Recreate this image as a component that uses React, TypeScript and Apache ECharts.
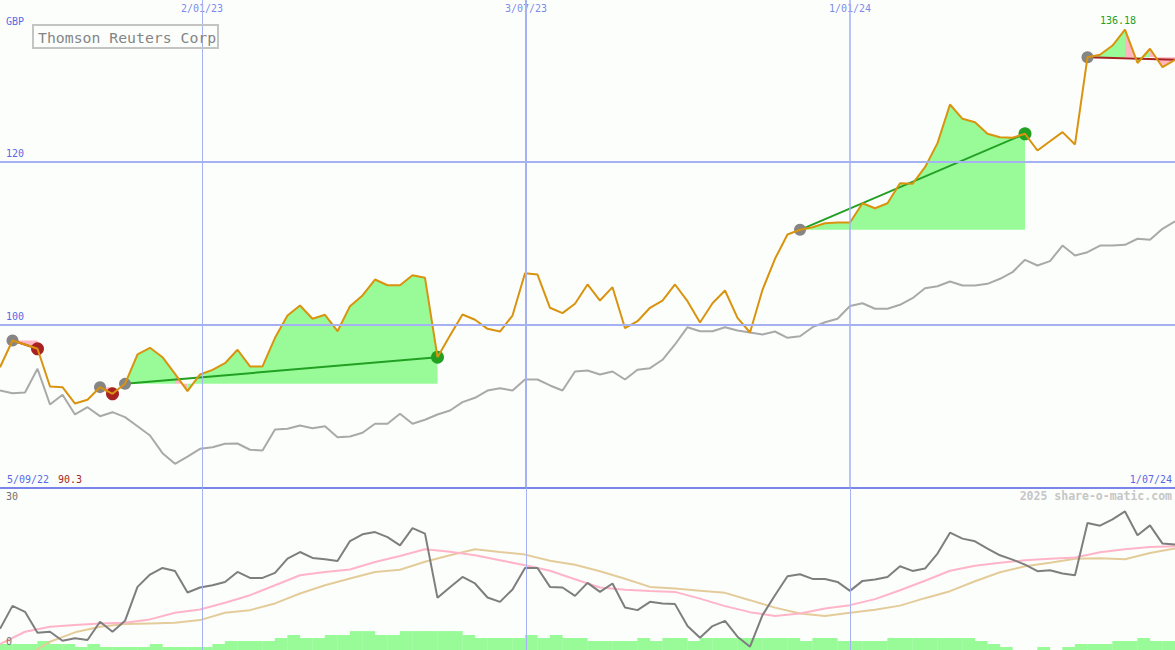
import React, { useEffect, useRef } from "react";
import * as echarts from "echarts";

const FONT = "'DejaVu Sans Mono', monospace";

// ---------- labels ----------
const currency = "GBP";
const company = "Thomson Reuters Corp";
const credit = "2025 share-o-matic.com";
const startDate = "5/09/22";
const endDate = "1/07/24";
const gridDates = ["2/01/23", "3/07/23", "1/01/24"];
const gridDateWeeks = [17.16, 43.08, 69];
const priceGridValues = [100, 120];
const lowerTicks = ["30", "0"];

// ---------- weekly data, weeks 1..95 ----------
const price = [
  94.76, 98.04, 97.55, 97.02, 92.39, 92.31, 90.3, 90.76, 92.31, 91.5,
  92.72, 96.32, 97.14, 95.99, 93.95, 91.82, 93.87, 94.44, 95.25, 96.9,
  94.85, 94.85, 98.37, 101.1, 102.33, 100.7, 101.19, 99.18, 102.25, 103.56,
  105.52, 104.82, 104.82, 106.05, 105.73, 95.99, 98.65, 101.23, 100.58, 99.47,
  99.14, 101.1, 106.29, 106.13, 102.05, 101.39, 102.54, 104.91, 102.94, 104.58,
  99.55, 100.4, 102.05, 102.94, 104.91, 102.86, 100.25, 102.61, 104.17, 100.82,
  99.02, 104.26, 108.06, 111.04, 111.62, 111.94, 112.43, 112.52, 112.52, 114.88,
  114.27, 114.88, 117.34, 117.26, 119.3, 122.25, 126.99, 125.24, 124.82, 123.4,
  122.98, 122.91, 123.4, 121.35, 122.49, 123.6, 122.09, 132.8, 133.09, 134.23,
  136.18, 132.09, 133.83, 131.57, 132.48,
];

const market = [
  91.9, 91.57, 91.66, 94.56, 90.18, 91.37, 88.96, 89.85, 88.75, 89.24,
  88.63, 87.52, 86.38, 84.21, 82.91, 83.8, 84.75, 84.94, 85.36, 85.4,
  84.63, 84.54, 87.12, 87.2, 87.61, 87.28, 87.52, 86.17, 86.26, 86.71,
  87.82, 87.82, 89.04, 87.82, 88.31, 88.96, 89.45, 90.47, 91.01, 91.9,
  92.18, 91.9, 93.25, 93.25, 92.52, 91.9, 94.23, 94.36, 93.87, 94.23,
  93.25, 94.44, 94.64, 95.67, 97.55, 99.67, 99.18, 99.18, 99.67, 99.26,
  99.02, 98.77, 99.14, 98.37, 98.56, 99.67, 100.28, 100.7, 102.27, 102.61,
  101.93, 101.93, 102.42, 103.23, 104.45, 104.7, 105.28, 104.79, 104.79, 104.99,
  105.61, 106.42, 107.94, 107.24, 107.77, 109.69, 108.47, 108.87, 109.69, 109.69,
  109.78, 110.52, 110.39, 111.74, 112.67,
];

const indicator = [
  3.92, 8.15, 7.05, 3.18, 3.37, 1.71, 2.15, 1.84, 5.21, 3.37,
  5.39, 11.65, 13.93, 15.15, 14.6, 10.62, 11.54, 11.96, 12.57, 14.41,
  13.31, 13.31, 14.23, 16.88, 18.09, 16.99, 16.75, 16.44, 20.12, 21.35,
  21.77, 20.85, 19.33, 22.51, 21.48, 9.63, 11.6, 13.49, 12.28, 9.7,
  8.89, 11.17, 15.15, 15.15, 11.65, 11.54, 9.99, 12.39, 10.73, 12.28,
  7.86, 7.36, 8.89, 8.6, 8.47, 4.42, 2.26, 4.42, 5.39, 2.45,
  0.61, 6.44, 10.12, 13.62, 13.99, 13.12, 13.12, 12.57, 10.91, 12.76,
  13.01, 13.49, 15.46, 14.6, 15.04, 17.8, 21.66, 20.56, 20.06, 18.72,
  17.49, 16.69, 15.77, 14.54, 14.72, 14.12, 13.8, 23.43, 22.95, 24.11,
  25.58, 21.17, 23.01, 19.64, 19.46,
];

// moving averages read at odd weeks 1,3,...,95
const maFast = [
  1.1, 3.37, 4.29, 4.6, 4.91, 5.02, 5.65, 6.87, 7.49, 8.71,
  10.12, 11.96, 13.8, 14.41, 14.85, 16.25, 17.36, 18.59, 18.13, 17.49,
  16.57, 15.64, 14.63, 13.07, 11.54, 11.14, 10.91, 10.73, 9.48, 8.1,
  6.99, 6.26, 6.72, 7.68, 8.28, 9.39, 11.04, 12.79, 14.63, 15.55,
  16.1, 16.57, 16.84, 17.06, 18.04, 18.59, 19.01, 19.14,
];
const maSlow = [
  null, -1.3, 1.53, 3.26, 4.29, 4.79, 4.91, 5.02, 5.52, 6.87,
  7.36, 8.6, 10.44, 11.96, 13.2, 14.41, 14.82, 16.29, 17.49, 18.59,
  18.09, 17.61, 16.47, 15.74, 14.54, 13.16, 11.65, 11.36, 10.95, 10.55,
  9.2, 7.82, 6.75, 6.26, 6.87, 7.45, 8.19, 9.57, 10.86, 12.7,
  14.36, 15.46, 16.1, 16.84, 16.93, 16.75, 17.91, 18.72,
];

// volume steps between consecutive weeks (segment k spans week k+1 .. k+2)
const volume = [
  2, 2, 2, 3, 2, 2, 1, 2, 1, 1,
  1, 1, 2, 1, 1, 1, 1, 2, 3, 3,
  3, 3, 4, 5, 4, 4, 5, 5, 6.3, 6.3,
  5, 5, 6.3, 6.3, 6.3, 6.3, 6.3, 5, 4, 4,
  4, 4, 5, 4, 5, 4, 4, 3, 3, 3,
  3, 4, 3, 4, 4, 3, 4, 4, 4, 4,
  4, 4, 4, 4, 3, 4, 4, 3, 3, 3,
  3, 4, 4, 4, 4, 4, 4, 4, 3, 2,
  1, 0, 0, 1, 0, 1, 2, 2, 2, 3,
  3, 4, 3, 3,
];

// trades (week numbers)
const tradeStart = [2, 9, 11, 65, 88];
const tradeEnd = [4, 10, 36, 83, 95];
const tradeClosed = [true, true, true, true, false];

// ---------- colours ----------
const BLUE = "#5a68e6";
const GRIDLINE = "#a6b1f4";
const GREEN_FILL = "#98fb98";
const PINK_FILL = "#ffb6c1";
const WIN = "#22a022";
const LOSS = "#a82222";

const mainMin = 80;
const mainMax = 80 + 487.5 / 8.15;

function buildOption() {
  const weeks = price.map((_, k) => k + 1);
  const priceData = weeks.map((w, k) => [w, price[k]]);
  const marketData = weeks.map((w, k) => [w, market[k]]);
  const indData = weeks.map((w, k) => [w, indicator[k]]);
  const maWeeks = maFast.map((_, k) => 1 + 2 * k);
  const fastData = maWeeks.map((w, k) => [w, maFast[k]]);
  const slowData = maWeeks.map((w, k) => [w, maSlow[k]]);
  const volData = volume.map((v, k) => [k + 1.5, v]);
  const minPrice = Math.min(...price);

  const P = (api: any, w: number) => api.coord([w, price[w - 1]]);

  // each weekly segment is filled between the price line and the entry level,
  // coloured by where that week closed relative to the entry level
  const fillRender = (params: any, api: any) => {
    const t = api.value(0) as number;
    const s = tradeStart[t];
    const e = tradeEnd[t];
    const level = price[s - 1];
    const ly = api.coord([s, level])[1];
    const colorOf = (w: number) => (price[w - 1] >= level ? GREEN_FILL : PINK_FILL);
    const children: any[] = [];
    const poly = (a: number, b: number, fill: string) => {
      const pts: number[][] = [];
      pts.push([P(api, a)[0], ly]);
      for (let w = a; w <= b; w++) pts.push(P(api, w));
      pts.push([P(api, b)[0], ly]);
      children.push({
        type: "polygon",
        shape: { points: pts },
        style: { fill },
        silent: true,
      });
    };
    let runStart = s;
    let runColor = colorOf(s + 1);
    for (let w = s + 1; w <= e; w++) {
      const c = colorOf(w);
      if (c !== runColor) {
        poly(runStart, w - 1, runColor);
        runStart = w - 1;
        runColor = c;
      }
    }
    poly(runStart, e, runColor);
    return { type: "group", children };
  };

  const tradeRender = (params: any, api: any) => {
    const t = api.value(0) as number;
    const s = tradeStart[t];
    const e = tradeEnd[t];
    const win = price[e - 1] > price[s - 1];
    const ps = P(api, s);
    const pe = P(api, e);
    const children: any[] = [
      {
        type: "line",
        shape: { x1: ps[0], y1: ps[1], x2: pe[0], y2: pe[1] },
        style: { stroke: win ? WIN : LOSS, lineWidth: 2 },
        silent: true,
      },
      {
        type: "circle",
        shape: { cx: ps[0], cy: ps[1], r: 6 },
        style: { fill: "#858585" },
        silent: true,
      },
    ];
    if (tradeClosed[t]) {
      children.push({
        type: "circle",
        shape: { cx: pe[0], cy: pe[1], r: 6.5 },
        style: { fill: win ? WIN : LOSS },
        silent: true,
      });
    }
    return { type: "group", children };
  };

  const tradeItems = tradeStart.map((_, k) => [k, 0]);

  const vLineData = (widths: number[]) =>
    gridDateWeeks.map((w, k) => ({
      xAxis: w,
      lineStyle: { color: GRIDLINE, width: widths[k], type: "solid" },
    }));

  const txt = (x: number, y: number, text: string, fill: string, extra: any = {}) => ({
    type: "text",
    x,
    y,
    z: 100,
    silent: true,
    style: {
      text,
      fill,
      font: `10px ${FONT}`,
      textVerticalAlign: "middle",
      verticalAlign: "middle",
      ...extra,
    },
  });

  return {
    animation: false,
    backgroundColor: "#fcfefc",
    textStyle: { fontFamily: FONT },
    grid: [
      { left: 0, right: 0, top: 0, height: 487.5 },
      { left: 0, right: 0, top: 487.5, height: 162.5 },
    ],
    xAxis: [
      { type: "value", gridIndex: 0, min: 1, max: 95, show: false },
      { type: "value", gridIndex: 1, min: 1, max: 95, show: false },
    ],
    yAxis: [
      { type: "value", gridIndex: 0, min: mainMin, max: mainMax, show: false },
      { type: "value", gridIndex: 1, min: 0, max: 30, show: false },
      { type: "value", gridIndex: 1, min: 0, max: 54.17, show: false },
    ],
    graphic: [
      txt(6, 21, currency, BLUE),
      {
        type: "rect",
        z: 100,
        shape: { x: 33, y: 25, width: 185, height: 23 },
        style: { fill: "none", stroke: "#c4c4c4", lineWidth: 2 },
        silent: true,
      },
      txt(38, 37, company, "#858585", { font: `14.8px ${FONT}` }),
      txt(7, 479, startDate, BLUE),
      txt(58, 479, minPrice.toFixed(1), "#a02828"),
      txt(1172, 479, endDate, BLUE, { textAlign: "right", align: "right" }),
      txt(1172, 496, credit, "#c6c6c6", {
        textAlign: "right",
        align: "right",
        font: `bold 11.5px ${FONT}`,
      }),
      txt(6, 496, lowerTicks[0], "#707070"),
      txt(6, 641, lowerTicks[1], "#707070"),
    ],
    series: [
      // main grid lines
      {
        type: "line",
        xAxisIndex: 0,
        yAxisIndex: 0,
        data: [],
        markLine: {
          silent: true,
          symbol: ["none", "none"],
          animation: false,
          data: [
            ...vLineData([1, 2, 1.5]),
            ...priceGridValues.map((v) => ({
              yAxis: v,
              lineStyle: { color: GRIDLINE, width: 2, type: "solid" },
              label: {
                show: true,
                position: "insideStartTop",
                distance: [6, 3],
                color: BLUE,
                fontSize: 10,
                fontFamily: FONT,
                formatter: String(v),
              },
            })),
            {
              yAxis: mainMin,
              lineStyle: { color: "#7985ea", width: 2, type: "solid" },
            },
          ],
          label: { show: false },
        },
      },
      // lower grid lines
      {
        type: "line",
        xAxisIndex: 1,
        yAxisIndex: 1,
        data: [],
        markLine: {
          silent: true,
          symbol: ["none", "none"],
          animation: false,
          label: { show: false },
          data: vLineData([1, 1, 1]),
        },
      },
      // date labels at top
      {
        type: "scatter",
        xAxisIndex: 0,
        yAxisIndex: 0,
        clip: false,
        symbolSize: 1,
        itemStyle: { color: "rgba(0,0,0,0)" },
        data: gridDateWeeks.map((w) => [w, mainMax]),
        label: {
          show: true,
          position: "bottom",
          distance: 3,
          color: BLUE,
          fontSize: 10,
          fontFamily: FONT,
          formatter: (p: any) => gridDates[p.dataIndex],
        },
        silent: true,
      },
      // volume
      {
        type: "bar",
        xAxisIndex: 1,
        yAxisIndex: 2,
        data: volData,
        barWidth: 12.8,
        itemStyle: { color: GREEN_FILL },
        silent: true,
      },
      {
        type: "line",
        xAxisIndex: 1,
        yAxisIndex: 1,
        data: slowData,
        showSymbol: false,
        symbol: "none",
        lineStyle: { color: "#e4cc9a", width: 2 },
        silent: true,
      },
      {
        type: "line",
        xAxisIndex: 1,
        yAxisIndex: 1,
        data: fastData,
        showSymbol: false,
        symbol: "none",
        lineStyle: { color: "#ffb4c8", width: 2 },
        silent: true,
      },
      {
        type: "line",
        xAxisIndex: 1,
        yAxisIndex: 1,
        data: indData,
        showSymbol: false,
        symbol: "none",
        lineStyle: { color: "#7e7e7e", width: 2 },
        silent: true,
      },
      // trade fills
      {
        type: "custom",
        xAxisIndex: 0,
        yAxisIndex: 0,
        data: tradeItems,
        renderItem: fillRender,
        clip: true,
        silent: true,
      },
      {
        type: "line",
        xAxisIndex: 0,
        yAxisIndex: 0,
        data: marketData,
        showSymbol: false,
        symbol: "none",
        lineStyle: { color: "#a9a9a9", width: 2 },
        silent: true,
      },
      {
        type: "line",
        xAxisIndex: 0,
        yAxisIndex: 0,
        data: priceData,
        showSymbol: false,
        symbol: "none",
        lineStyle: { color: "#d9930e", width: 2 },
        silent: true,
        markPoint: {
          symbol: "circle",
          symbolSize: 1,
          itemStyle: { color: "rgba(0,0,0,0)" },
          data: [{ type: "max" }],
          label: {
            show: true,
            position: "top",
            distance: 4,
            offset: [-7, 0],
            color: WIN,
            fontSize: 10,
            fontFamily: FONT,
            formatter: (p: any) => Number(p.value).toFixed(2),
          },
        },
      },
      {
        type: "custom",
        xAxisIndex: 0,
        yAxisIndex: 0,
        data: tradeItems,
        renderItem: tradeRender,
        clip: false,
        silent: true,
      },
    ],
  };
}

export default function App() {
  const ref = useRef<HTMLDivElement>(null);
  useEffect(() => {
    if (!ref.current) return;
    const chart = echarts.init(ref.current, null, { renderer: "svg" });
    chart.setOption(buildOption() as any);
    return () => chart.dispose();
  }, []);
  return (
    <div
      ref={ref}
      style={{ position: "fixed", left: 0, top: 0, width: 1175, height: 650 }}
    />
  );
}
